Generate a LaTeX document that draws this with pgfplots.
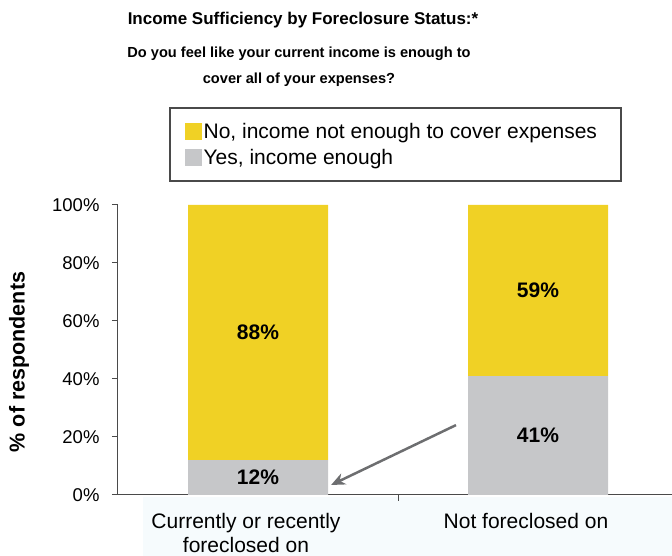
\documentclass[border=0pt]{standalone}
\usepackage{fontspec}
\setmainfont{Liberation Sans}
\usepackage{pgfplots}
\pgfplotsset{compat=1.18}
\usetikzlibrary{arrows.meta}
\definecolor{BarYellow}{HTML}{F0D125}
\definecolor{BarGray}{HTML}{C6C7C9}
\definecolor{ArrowGray}{HTML}{6D6E70}
\definecolor{AxisGray}{HTML}{4A4A4A}
\definecolor{BandBlue}{HTML}{F6FBFD}

\begin{document}
\begin{tikzpicture}[x=1pt,y=1pt]
\useasboundingbox (0,0) rectangle (672,556);
% faint band behind the category labels
\fill[BandBlue] (143,0) rectangle (672,59);
% titles
\node[font=\bfseries\fontsize{17}{20}\selectfont] at (303,536) {Income Sufficiency by Foreclosure Status:*};
\node[font=\bfseries\fontsize{14.6}{26}\selectfont, align=center] at (299,489)
  {Do you feel like your current income is enough to\\cover all of your expenses?};
% legend frame
\draw[AxisGray, line width=1.3pt] (170,448) rectangle (621,375);

\begin{axis}[
  at={(118pt,61pt)}, anchor=south west,
  scale only axis, width=554.4pt, height=290pt,
  xmin=-0.5, xmax=1.48, ymin=0, ymax=100,
  ybar stacked, bar width=0.5,
  axis x line*=bottom, axis y line*=left,
  axis line style={AxisGray, line width=1pt},
  tick style={AxisGray, line width=1pt},
  tick align=outside, major tick length=6pt,
  xtick={0.5}, xticklabels={},
  extra x ticks={0,1},
  extra x tick labels={{Currently or recently\\foreclosed on}, {Not foreclosed on}},
  extra x tick style={major tick length=0pt},
  xticklabel style={font=\fontsize{21}{23.5}\selectfont, align=center, yshift=-15pt, xshift=-12pt},
  ytick={0,20,40,60,80,100},
  yticklabels={0\%,20\%,40\%,60\%,80\%,100\%},
  yticklabel style={font=\fontsize{18.5}{20}\selectfont, xshift=-9pt},
  ylabel={\% of respondents},
  ylabel style={font=\bfseries\fontsize{21.5}{24}\selectfont, at={(axis description cs:-0.1786,0.4586)}, anchor=center},
  legend style={at={(axis description cs:0.1155,1.2965)}, anchor=north west,
    draw=none, fill=none, font=\fontsize{21}{24}\selectfont, row sep=5pt,
    /tikz/every even column/.append style={column sep=2pt}},
  legend cell align=left,
]
\addplot[fill=BarGray, draw=none, forget plot] coordinates {(0,12) (1,41)};
\addplot[fill=BarYellow, draw=none, forget plot] coordinates {(0,88) (1,59)};

\addlegendimage{legend image code/.code={\fill[BarYellow] (0pt,-8pt) rectangle (16pt,8pt);}}
\addlegendentry{No, income not enough to cover expenses}
\addlegendimage{legend image code/.code={\fill[BarGray] (0pt,-8pt) rectangle (16pt,8pt);}}
\addlegendentry{Yes, income enough}

% anchors for the value labels (middle of each segment)
\coordinate (g1) at (axis cs:0,6);
\coordinate (y1) at (axis cs:0,56);
\coordinate (g2) at (axis cs:1,20.5);
\coordinate (y2) at (axis cs:1,70.5);

\draw[ArrowGray, line width=2.5pt, -{Stealth[length=14pt,width=12pt]}]
  (axis cs:0.707,24.1) -- (axis cs:0.261,3.45);
\end{axis}
\begin{scope}[every node/.style={font=\bfseries\fontsize{21}{24}\selectfont}]
\node at (g1) {12\%};
\node at (y1) {88\%};
\node at (g2) {41\%};
\node at (y2) {59\%};
\end{scope}
\end{tikzpicture}
\end{document}
